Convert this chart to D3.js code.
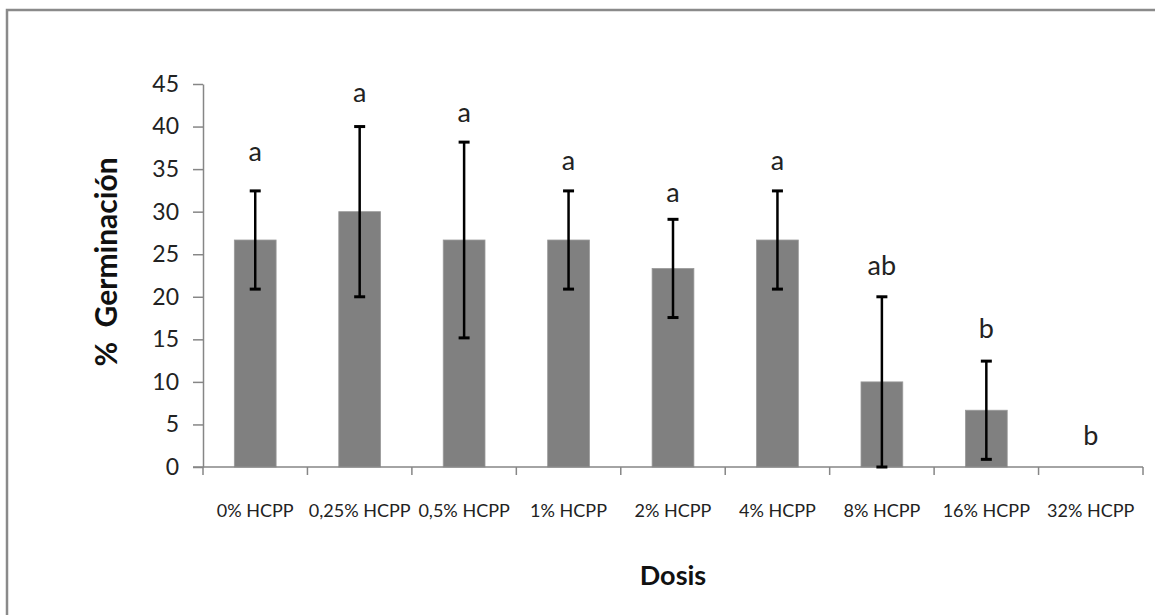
<!DOCTYPE html>
<html>
<head>
<meta charset="utf-8">
<script src="https://cdn.jsdelivr.net/npm/d3@7/dist/d3.min.js"></script>
<style>
  html, body { margin: 0; padding: 0; background: #fff; }
  svg { display: block; }
</style>
</head>
<body>
<svg id="chart" width="1155" height="615"></svg>
<script>
// ---- data ----
const categories = ["0% HCPP", "0,25% HCPP", "0,5% HCPP", "1% HCPP", "2% HCPP", "4% HCPP", "8% HCPP", "16% HCPP", "32% HCPP"];
const germination = [26.67, 30, 26.67, 26.67, 23.33, 26.67, 10, 6.67, 0];
const errors = [5.77, 10, 11.5, 5.77, 5.77, 5.77, 10, 5.77, 0];
const letters = ["a", "a", "a", "a", "a", "a", "ab", "b", "b"];
const letterLevel = [35.9, 42.9, 40.5, 34.9, 31.1, 34.9, 22.6, 15.2, 2.6];
const yTicks = [0, 5, 10, 15, 20, 25, 30, 35, 40, 45];
const yTitle = "%\u00a0\u00a0Germinación";
const xTitle = "Dosis";

(function () {
// ---- layout ----
const svg = d3.select("#chart");
const plotLeft = 203, plotRight = 1143, plotTop = 84, plotBottom = 467;
const axisColor = "#868686";
const font = "Lato, 'Open Sans', sans-serif";

// outer frame (extends beyond the visible area at right and bottom)
svg.append("rect")
  .attr("x", 7).attr("y", 10)
  .attr("width", 1200).attr("height", 700)
  .attr("fill", "none")
  .attr("stroke", "#8a8a8a")
  .attr("stroke-width", 2.5);

const x = d3.scaleBand().domain(categories).range([plotLeft, plotRight]).padding(0);
const y = d3.scaleLinear().domain([0, 45]).range([plotBottom, plotTop]);

// y axis
const yAxis = svg.append("g")
  .attr("transform", `translate(${plotLeft},0)`)
  .call(d3.axisLeft(y).tickValues(yTicks).tickSize(10).tickPadding(14).tickSizeOuter(0));
yAxis.select(".domain").attr("stroke", axisColor).attr("stroke-width", 1.5);
yAxis.selectAll(".tick line").attr("stroke", axisColor).attr("stroke-width", 1.5);
yAxis.selectAll(".tick text")
  .attr("font-family", font).attr("font-size", 23).attr("fill", "#222");

// bars
const barW = x.bandwidth() * 0.4;
svg.append("g").selectAll("rect")
  .data(categories)
  .join("rect")
  .attr("x", (d) => x(d) + (x.bandwidth() - barW) / 2)
  .attr("y", (d, i) => y(germination[i]))
  .attr("width", barW)
  .attr("height", (d, i) => y(0) - y(germination[i]))
  .attr("fill", "#808080")
  .attr("stroke", "#9a9a9a")
  .attr("stroke-width", 0.8);

// x axis
svg.append("line")
  .attr("x1", plotLeft - 10).attr("x2", plotRight)
  .attr("y1", plotBottom).attr("y2", plotBottom)
  .attr("stroke", axisColor).attr("stroke-width", 1.5);
const bounds = categories.map((d) => x(d)).concat([plotRight]);
svg.append("g").selectAll("line")
  .data(bounds)
  .join("line")
  .attr("x1", (d) => d).attr("x2", (d) => d)
  .attr("y1", plotBottom).attr("y2", plotBottom + 8)
  .attr("stroke", axisColor).attr("stroke-width", 1.5);

svg.append("g").selectAll("text")
  .data(categories)
  .join("text")
  .attr("x", (d) => x(d) + x.bandwidth() / 2)
  .attr("y", 517)
  .attr("text-anchor", "middle")
  .attr("font-family", font).attr("font-size", 18).attr("fill", "#222")
  .text((d) => d);

// error bars
const eg = svg.append("g").attr("stroke", "#000");
categories.forEach((c, i) => {
  if (errors[i] <= 0) return;
  const cx = x(c) + x.bandwidth() / 2;
  const hi = y(germination[i] + errors[i]);
  const lo = y(Math.max(0, germination[i] - errors[i]));
  eg.append("line").attr("x1", cx).attr("x2", cx).attr("y1", hi).attr("y2", lo).attr("stroke-width", 2.5);
  eg.append("line").attr("x1", cx - 5.5).attr("x2", cx + 5.5).attr("y1", hi).attr("y2", hi).attr("stroke-width", 3);
  eg.append("line").attr("x1", cx - 5.5).attr("x2", cx + 5.5).attr("y1", lo).attr("y2", lo).attr("stroke-width", 3);
});

// significance letters
svg.append("g").selectAll("text")
  .data(categories)
  .join("text")
  .attr("x", (d) => x(d) + x.bandwidth() / 2)
  .attr("y", (d, i) => y(letterLevel[i]))
  .attr("text-anchor", "middle")
  .attr("font-family", font).attr("font-size", 27).attr("fill", "#222")
  .text((d, i) => letters[i]);

// axis titles
svg.append("text")
  .attr("transform", `translate(117,262) rotate(-90)`)
  .attr("text-anchor", "middle")
  .attr("font-family", font).attr("font-weight", "bold").attr("font-size", 30).attr("fill", "#111")
  .text(yTitle);

svg.append("text")
  .attr("x", (plotLeft + plotRight) / 2).attr("y", 585)
  .attr("text-anchor", "middle")
  .attr("font-family", font).attr("font-weight", "bold").attr("font-size", 27).attr("fill", "#111")
  .text(xTitle);
})();
</script>
</body>
</html>
